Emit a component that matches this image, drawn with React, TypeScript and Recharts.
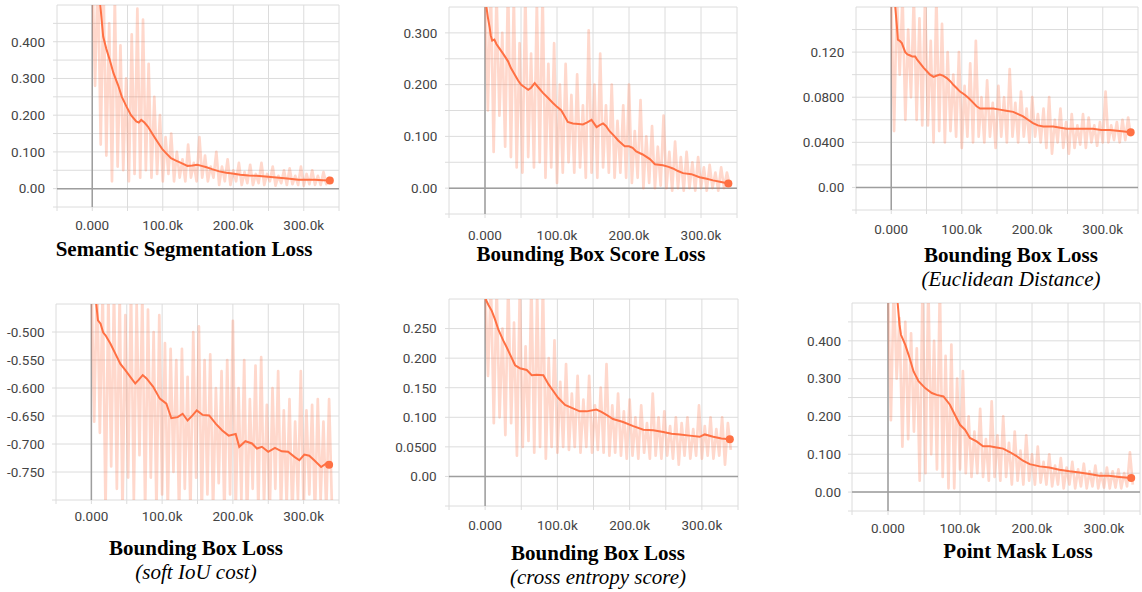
import { LineChart, Line, XAxis, YAxis, CartesianGrid, ReferenceLine, ReferenceDot } from 'recharts'

const ORANGE = '#ff7043'
const GRID = '#dcdcdc'
const ZERO = '#9e9e9e'
const TICK_FONT = { fill: '#444', fontSize: 13.5, fontFamily: 'Roboto, "Noto Sans", sans-serif' }
const TITLE_FONT = '"Liberation Serif", "Times New Roman", serif'

// training steps (thousands) of the raw logged points, shared by all six runs
const rawSteps = [
  0, 4, 8, 12, 16, 20, 24, 28, 32, 36,
  40, 44, 48, 52, 56, 60, 64, 68, 72, 76,
  80, 84, 88, 92, 96, 100, 104, 108, 112, 116,
  120, 124, 128, 132, 136, 140, 144, 148, 152, 156,
  160, 164, 168, 172, 176, 180, 184, 188, 192, 196,
  200, 204, 208, 212, 216, 220, 224, 228, 232, 236,
  240, 244, 248, 252, 256, 260, 264, 268, 272, 276,
  280, 284, 288, 292, 296, 300, 304, 308, 312, 316,
  320, 324, 328, 332, 336, 340
]

const xTicks = [-50, 0, 50, 100, 150, 200, 250, 300, 350]
const xLabels = ['', '0.000', '', '100.0k', '', '200.0k', '', '300.0k', '']

// Semantic Segmentation Loss
const segRaw = [
  0.6, 0.28, 0.6, 0.12, 0.55, 0.09, 0.45, 0.02, 0.52, 0.06,
  0.39, 0.05, 0.3, 0.02, 0.42, 0.04, 0.49, 0.03, 0.46, 0.05,
  0.34, 0.03, 0.25, 0.04, 0.2, 0.02, 0.14, 0.04, 0.15, 0.02,
  0.1, 0.03, 0.08, 0.02, 0.12, 0.03, 0.07, 0.02, 0.14, 0.03,
  0.09, 0.02, 0.06, 0.03, 0.1, 0.01, 0.06, 0.02, 0.08, 0.01,
  0.05, 0.02, 0.07, 0.01, 0.045, 0.015, 0.065, 0.01, 0.04, 0.015,
  0.07, 0.01, 0.04, 0.02, 0.06, 0.008, 0.035, 0.015, 0.05, 0.01,
  0.055, 0.012, 0.035, 0.01, 0.06, 0.008, 0.04, 0.012, 0.05, 0.01,
  0.035, 0.01, 0.045, 0.012, 0.03, 0.02
]
const segSmooth = [
  [0, 1.1], [5, 0.72], [10.8, 0.513], [15.5, 0.414], [20, 0.38], [24.9, 0.35], [30, 0.315],
  [36.6, 0.282], [42, 0.25], [48.4, 0.224], [55, 0.2], [62.4, 0.183], [66, 0.18], [69.5, 0.187],
  [74, 0.18], [78.9, 0.169], [85, 0.15], [90.6, 0.133], [95, 0.12], [100, 0.106], [106, 0.094],
  [111.7, 0.083], [118, 0.077], [125.8, 0.07], [135, 0.062], [142, 0.063], [149, 0.065],
  [155, 0.062], [161, 0.059], [170, 0.053], [180, 0.047], [190, 0.043], [198.6, 0.041],
  [210, 0.038], [222, 0.036], [233, 0.035], [245.5, 0.033], [257, 0.031], [269, 0.029],
  [280, 0.027], [292.5, 0.024], [304, 0.024], [316, 0.024], [327, 0.023], [337, 0.022]
]
const segYTicks = [-0.05, 0, 0.05, 0.1, 0.15, 0.2, 0.25, 0.3, 0.35, 0.4, 0.45]
const segYLabels = ['', '0.00', '', '0.100', '', '0.200', '', '0.300', '', '0.400', '']

// Bounding Box Score Loss
const scoreRaw = [
  0.4, 0.15, 0.4, 0.07, 0.38, 0.14, 0.3, 0.08, 0.4, 0.06,
  0.37, 0.04, 0.28, 0.03, 0.38, 0.06, 0.26, 0.04, 0.36, 0.05,
  0.38, 0.02, 0.24, 0.04, 0.28, 0.01, 0.2, 0.03, 0.24, 0.05,
  0.18, 0.03, 0.22, 0.04, 0.16, 0.02, 0.305, 0.03, 0.2, 0.02,
  0.26, 0.04, 0.16, 0.03, 0.2, 0.02, 0.13, 0.03, 0.16, 0.02,
  0.2, 0.01, 0.11, 0.02, 0.17, 0.0, 0.1, 0.01, 0.12, 0.0,
  0.08, 0.005, 0.14, 0.0, 0.07, -0.005, 0.09, 0.0, 0.06, -0.005,
  0.07, 0.0, 0.05, -0.005, 0.06, 0.0, 0.04, -0.005, 0.045, 0.0,
  0.03, -0.005, 0.04, 0.0, 0.03, 0.005
]
const scoreSmooth = [
  [0, 0.42], [1, 0.36], [4, 0.33], [6.5, 0.31], [8, 0.295], [10, 0.285], [13, 0.287], [16, 0.278],
  [20, 0.27], [26, 0.258], [32, 0.245], [36, 0.232], [41, 0.22], [46, 0.208], [50, 0.2], [55, 0.195],
  [60, 0.19], [64, 0.194], [69, 0.203], [75, 0.193], [80.5, 0.184], [87, 0.175], [94, 0.165],
  [100, 0.157], [106, 0.15], [111, 0.138], [115, 0.128], [122, 0.125], [130, 0.124], [136, 0.123],
  [142, 0.127], [148, 0.132], [155, 0.118], [160, 0.122], [164, 0.125], [168, 0.12], [173, 0.11],
  [180, 0.1], [185, 0.092], [194, 0.081], [200, 0.081], [205, 0.078], [210, 0.071], [219, 0.065],
  [229, 0.056], [236, 0.046], [247, 0.044], [255, 0.041], [261, 0.038], [268, 0.033], [275, 0.029],
  [286.6, 0.027], [298, 0.021], [308, 0.018], [316.7, 0.015], [328, 0.012], [338, 0.009]
]
const scoreYTicks = [-0.05, 0, 0.05, 0.1, 0.15, 0.2, 0.25, 0.3]
const scoreYLabels = ['', '0.00', '', '0.100', '', '0.200', '', '0.300']

// Bounding Box Loss (Euclidean Distance)
const euclidRaw = [
  0.17, 0.05, 0.17, 0.1, 0.17, 0.06, 0.14, 0.08, 0.17, 0.06,
  0.15, 0.055, 0.17, 0.055, 0.13, 0.04, 0.17, 0.05, 0.145, 0.04,
  0.12, 0.05, 0.1, 0.045, 0.12, 0.035, 0.09, 0.045, 0.11, 0.04,
  0.13, 0.045, 0.08, 0.04, 0.095, 0.045, 0.075, 0.035, 0.09, 0.045,
  0.08, 0.04, 0.105, 0.045, 0.075, 0.04, 0.085, 0.045, 0.07, 0.04,
  0.08, 0.045, 0.065, 0.04, 0.07, 0.035, 0.08, 0.03, 0.06, 0.04,
  0.07, 0.035, 0.058, 0.03, 0.065, 0.035, 0.055, 0.038, 0.065, 0.035,
  0.062, 0.04, 0.055, 0.037, 0.058, 0.04, 0.085, 0.04, 0.055, 0.042,
  0.058, 0.04, 0.06, 0.042, 0.062, 0.045
]
const euclidSmooth = [
  [0, 0.22], [5.7, 0.16], [8, 0.143], [9.4, 0.131], [12, 0.13], [15, 0.128], [19.8, 0.12],
  [23, 0.118], [26.9, 0.117], [30, 0.116], [34, 0.116], [37, 0.113], [41, 0.11], [46, 0.106],
  [50.5, 0.103], [55, 0.1], [60, 0.098], [64, 0.099], [69, 0.1], [74, 0.099], [78.8, 0.097],
  [84, 0.094], [88, 0.091], [93, 0.088], [97.6, 0.085], [104.7, 0.082], [110, 0.079], [116.5, 0.075],
  [121, 0.072], [126, 0.07], [135, 0.07], [144.8, 0.07], [154, 0.069], [163, 0.068], [173, 0.067],
  [180, 0.065], [187, 0.063], [194, 0.06], [201, 0.057], [208, 0.055], [215.6, 0.054], [229.7, 0.054],
  [240, 0.053], [248.6, 0.052], [267, 0.052], [286, 0.052], [298, 0.051], [310, 0.051], [324, 0.05],
  [339.6, 0.049]
]
const euclidYTicks = [-0.02, 0, 0.02, 0.04, 0.06, 0.08, 0.1, 0.12, 0.14]
const euclidYLabels = ['', '0.00', '', '0.0400', '', '0.0800', '', '0.120', '']

// Bounding Box Loss (soft IoU cost)
const iouRaw = [
  -0.4, -0.66, -0.4, -0.68, -0.42, -0.82, -0.43, -0.74, -0.42, -0.78,
  -0.43, -0.82, -0.47, -0.76, -0.42, -0.8, -0.45, -0.72, -0.43, -0.82,
  -0.46, -0.76, -0.5, -0.82, -0.47, -0.79, -0.52, -0.82, -0.53, -0.75,
  -0.55, -0.83, -0.53, -0.78, -0.58, -0.82, -0.5, -0.76, -0.49, -0.83,
  -0.55, -0.79, -0.54, -0.82, -0.6, -0.77, -0.57, -0.83, -0.55, -0.79,
  -0.48, -0.82, -0.6, -0.8, -0.55, -0.84, -0.62, -0.78, -0.56, -0.82,
  -0.545, -0.81, -0.63, -0.83, -0.6, -0.78, -0.57, -0.82, -0.64, -0.81,
  -0.62, -0.83, -0.66, -0.8, -0.57, -0.82, -0.64, -0.79, -0.63, -0.83,
  -0.62, -0.8, -0.66, -0.82, -0.62, -0.81
]
const iouSmooth = [
  [0, -0.38], [7, -0.451], [9.3, -0.479], [13, -0.485], [16.7, -0.501], [20, -0.506], [27, -0.521],
  [34, -0.539], [41, -0.557], [48, -0.568], [55, -0.58], [62, -0.592], [66.5, -0.586], [72.6, -0.577],
  [78, -0.583], [87.4, -0.598], [96.7, -0.619], [106, -0.628], [113, -0.654], [122, -0.652],
  [129, -0.646], [136, -0.658], [143, -0.649], [149, -0.64], [157, -0.648], [166.5, -0.649],
  [176, -0.664], [185, -0.676], [194, -0.685], [204, -0.682], [209, -0.705], [217.7, -0.695],
  [227, -0.699], [234, -0.708], [241, -0.705], [250, -0.714], [259.5, -0.707], [269, -0.713],
  [278, -0.714], [287, -0.723], [294, -0.729], [301, -0.719], [308, -0.721], [315, -0.729],
  [324.7, -0.741], [331.6, -0.735], [336, -0.737]
]
const iouYTicks = [-0.8, -0.75, -0.7, -0.65, -0.6, -0.55, -0.5]
const iouYLabels = ['', '-0.750', '-0.700', '-0.650', '-0.600', '-0.550', '-0.500']

// Bounding Box Loss (cross entropy score)
const xentRaw = [
  0.33, 0.17, 0.33, 0.09, 0.32, 0.1, 0.25, 0.07, 0.33, 0.09,
  0.26, 0.035, 0.32, 0.05, 0.22, 0.06, 0.33, 0.04, 0.31, 0.05,
  0.33, 0.03, 0.2, 0.05, 0.23, 0.04, 0.16, 0.05, 0.19, 0.045,
  0.14, 0.05, 0.17, 0.04, 0.13, 0.05, 0.17, 0.04, 0.12, 0.045,
  0.15, 0.04, 0.19, 0.035, 0.12, 0.04, 0.14, 0.035, 0.11, 0.03,
  0.13, 0.035, 0.1, 0.03, 0.12, 0.04, 0.09, 0.03, 0.14, 0.035,
  0.1, 0.03, 0.11, 0.035, 0.085, 0.03, 0.1, 0.02, 0.09, 0.035,
  0.1, 0.03, 0.08, 0.035, 0.12, 0.03, 0.085, 0.035, 0.1, 0.03,
  0.08, 0.035, 0.1, 0.02, 0.09, 0.045
]
const xentSmooth = [
  [0, 0.32], [1.4, 0.298], [4.6, 0.29], [9.2, 0.28], [13.8, 0.265], [18.4, 0.248], [25, 0.23],
  [30, 0.218], [34.6, 0.206], [41.5, 0.188], [48, 0.183], [57.6, 0.18], [64.5, 0.171], [71.4, 0.172],
  [80.6, 0.171], [87.6, 0.156], [94.5, 0.144], [101, 0.133], [110.6, 0.121], [120, 0.116],
  [131, 0.11], [140.5, 0.11], [154, 0.113], [161, 0.109], [168, 0.104], [177, 0.097], [191, 0.092],
  [205, 0.085], [219, 0.079], [232.7, 0.078], [246.5, 0.075], [258, 0.072], [269.6, 0.071],
  [283, 0.069], [297, 0.067], [304, 0.071], [315.7, 0.067], [327, 0.064], [338.7, 0.063]
]
const xentYTicks = [-0.05, 0, 0.05, 0.1, 0.15, 0.2, 0.25]
const xentYLabels = ['', '0.00', '0.0500', '0.100', '0.150', '0.200', '0.250']

// Point Mask Loss
const maskRaw = [
  0.55, 0.19, 0.55, 0.3, 0.46, 0.12, 0.45, 0.14, 0.42, 0.16,
  0.38, 0.03, 0.55, 0.05, 0.55, 0.1, 0.4, 0.06, 0.55, 0.04,
  0.36, 0.01, 0.39, 0.01, 0.3, 0.06, 0.32, 0.05, 0.2, 0.04,
  0.16, 0.05, 0.22, 0.04, 0.14, 0.03, 0.24, 0.04, 0.15, 0.03,
  0.2, 0.04, 0.13, 0.02, 0.16, 0.03, 0.11, 0.02, 0.15, 0.03,
  0.1, 0.02, 0.12, 0.025, 0.08, 0.02, 0.1, 0.015, 0.07, 0.02,
  0.09, 0.01, 0.065, 0.02, 0.08, 0.01, 0.06, 0.015, 0.075, 0.01,
  0.055, 0.015, 0.07, 0.01, 0.05, 0.012, 0.065, 0.01, 0.055, 0.012,
  0.06, 0.01, 0.05, 0.015, 0.105, 0.02
]
const maskSmooth = [
  [0, 0.75], [8, 0.6], [13.4, 0.5], [16, 0.442], [18, 0.416], [24, 0.389], [28.6, 0.363],
  [35.5, 0.319], [42.4, 0.293], [51.6, 0.275], [60.8, 0.262], [67.7, 0.257], [77, 0.253], [86, 0.231],
  [93, 0.204], [100, 0.178], [107, 0.165], [113.8, 0.143], [123, 0.134], [132, 0.121], [141.5, 0.121],
  [150.7, 0.118], [160, 0.115], [169, 0.106], [178, 0.096], [187.5, 0.083], [196.8, 0.074],
  [210.6, 0.068], [224, 0.065], [238, 0.059], [252, 0.055], [266, 0.052], [279.7, 0.048],
  [293.5, 0.043], [307, 0.043], [321, 0.04], [337.8, 0.037]
]
const maskYTicks = [-0.05, 0, 0.05, 0.1, 0.15, 0.2, 0.25, 0.3, 0.35, 0.4, 0.45]
const maskYLabels = ['', '0.00', '', '0.100', '', '0.200', '', '0.300', '', '0.400', '']

// where each plot area sits on the page, and its caption
const PANELS = [
  { raw: segRaw, smooth: segSmooth, yTicks: segYTicks, yLabels: segYLabels, domain: [-0.05, 0.5],
    x: 57, y: 5, w: 282, h: 202, xGap: 9.9, yGap: 8,
    title: 'Semantic Segmentation Loss', cx: 184, ty: 256 },
  { raw: scoreRaw, smooth: scoreSmooth, yTicks: scoreYTicks, yLabels: scoreYLabels, domain: [-0.05, 0.35],
    x: 449, y: 7, w: 288, h: 207, xGap: 12, yGap: 7.6,
    title: 'Bounding Box Score Loss', cx: 591, ty: 261 },
  { raw: euclidRaw, smooth: euclidSmooth, yTicks: euclidYTicks, yLabels: euclidYLabels, domain: [-0.02, 0.16],
    x: 856, y: 7, w: 282, h: 203, xGap: 10.6, yGap: 7.7,
    title: 'Bounding Box Loss', subtitle: '(Euclidean Distance)', cx: 1011, ty: 262 },
  { raw: iouRaw, smooth: iouSmooth, yTicks: iouYTicks, yLabels: iouYLabels, domain: [-0.8, -0.45],
    x: 56, y: 304, w: 283, h: 196, xGap: 7.2, yGap: 7.4,
    title: 'Bounding Box Loss', subtitle: '(soft IoU cost)', cx: 196, ty: 555 },
  { raw: xentRaw, smooth: xentSmooth, yTicks: xentYTicks, yLabels: xentYLabels, domain: [-0.05, 0.3],
    x: 449, y: 299, w: 289, h: 207, xGap: 10.2, yGap: 8.3,
    title: 'Bounding Box Loss', subtitle: '(cross entropy score)', cx: 598, ty: 560 },
  { raw: maskRaw, smooth: maskSmooth, yTicks: maskYTicks, yLabels: maskYLabels, domain: [-0.05, 0.5],
    x: 852, y: 303, w: 288, h: 208, xGap: 8.3, yGap: 7,
    title: 'Point Mask Loss', cx: 1018, ty: 558 }
]

function LossPanel({ p }: { p: any }) {
  const raw = p.raw.map((v: number, i: number) => ({ step: rawSteps[i], value: v }))
  const smooth = p.smooth.map(([s, v]: number[]) => ({ step: s, value: v }))
  const last = smooth[smooth.length - 1]
  const showZeroY = p.domain[0] < 0 && p.domain[1] > 0

  return (
    <div style={{ position: 'absolute', left: p.x - 60, top: p.y - 6 }}>
      <LineChart width={p.w + 64} height={p.h + 36} margin={{ top: 6, right: 4, bottom: 0, left: 0 }}>
        <CartesianGrid stroke={GRID} />
        <XAxis
          type="number"
          dataKey="step"
          domain={[-50, 350]}
          ticks={xTicks}
          interval={0}
          allowDataOverflow
          height={30}
          axisLine={false}
          tickLine={{ stroke: GRID }}
          tickSize={4}
          tickMargin={p.xGap}
          tick={TICK_FONT}
          tickFormatter={(v: number) => xLabels[xTicks.indexOf(v)]}
        />
        <YAxis
          type="number"
          domain={p.domain}
          ticks={p.yTicks}
          interval={0}
          allowDataOverflow
          width={60}
          axisLine={false}
          tickLine={{ stroke: GRID }}
          tickSize={4}
          tickMargin={p.yGap}
          tick={TICK_FONT}
          tickFormatter={(v: number) => p.yLabels[p.yTicks.indexOf(v)]}
        />
        <ReferenceLine x={0} stroke={ZERO} strokeWidth={1.5} />
        {showZeroY && <ReferenceLine y={0} stroke={ZERO} strokeWidth={1.5} />}
        <Line
          data={raw}
          dataKey="value"
          stroke={ORANGE}
          strokeOpacity={0.27}
          strokeWidth={2.7}
          strokeLinejoin="round"
          dot={false}
          isAnimationActive={false}
        />
        <Line
          data={smooth}
          dataKey="value"
          stroke={ORANGE}
          strokeWidth={2}
          dot={false}
          isAnimationActive={false}
        />
        <ReferenceDot x={last.step} y={last.value} r={4} fill={ORANGE} stroke="none" />
      </LineChart>
    </div>
  )
}

export default function App() {
  return (
    <div style={{ position: 'absolute', left: 0, top: 0, width: 1142, height: 592, overflow: 'hidden', background: '#fff' }}>
      {PANELS.map((p, i) => (
        <LossPanel key={i} p={p} />
      ))}
      <svg width={1142} height={592} style={{ position: 'absolute', left: 0, top: 0, pointerEvents: 'none' }}>
        {PANELS.map((p, i) => (
          <g key={i}>
            <text x={p.cx} y={p.ty} textAnchor="middle" fontFamily={TITLE_FONT} fontWeight="bold" fontSize={21} fill="#000">
              {p.title}
            </text>
            {p.subtitle && (
              <text x={p.cx} y={p.ty + 24} textAnchor="middle" fontFamily={TITLE_FONT} fontStyle="italic" fontSize={21} fill="#000">
                {p.subtitle}
              </text>
            )}
          </g>
        ))}
      </svg>
    </div>
  )
}
